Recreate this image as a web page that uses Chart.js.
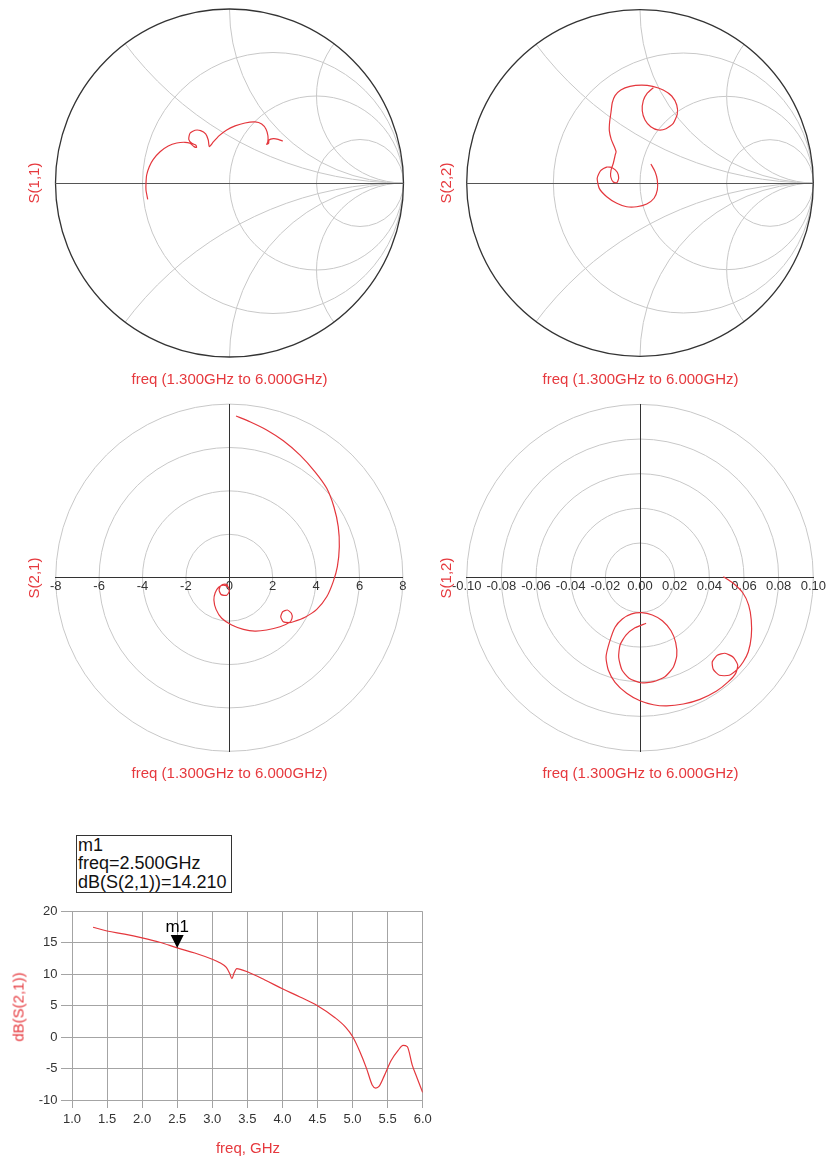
<!DOCTYPE html>
<html>
<head>
<meta charset="utf-8">
<title>S-parameters 1.3 - 6 GHz</title>
<script src="https://cdn.jsdelivr.net/npm/chart.js@4.4.1/dist/chart.umd.min.js"></script>
<style>
  html, body { margin: 0; padding: 0; background: #fff; }
  #page { position: relative; width: 828px; height: 1157px; overflow: hidden; font-family: "Liberation Sans", Arial, sans-serif; }
  #page canvas { position: absolute; }
  .red { position: absolute; color: #e6393e; font-size: 15px; white-space: nowrap; transform: translate(-50%, -50%); }
  .red.v { transform: translate(-50%, -50%) rotate(-90deg); }
  #mbox { position: absolute; left: 76px; top: 835px; width: 153px; height: 56px; border: 1px solid #333;
          padding: 0 0 0 1px; font-size: 18px; line-height: 18.3px; color: #111; white-space: nowrap; }
</style>
</head>
<body>
<div id="page">
  <canvas id="s11"></canvas>
  <canvas id="s22"></canvas>
  <canvas id="s21"></canvas>
  <canvas id="s12"></canvas>
  <canvas id="db"></canvas>

  <div class="red v" style="left:33px;top:183px">S(1,1)</div>
  <div class="red v" style="left:445px;top:183px">S(2,2)</div>
  <div class="red v" style="left:33px;top:578px">S(2,1)</div>
  <div class="red v" style="left:445px;top:578px">S(1,2)</div>
  <div class="red" style="left:229.5px;top:378px">freq (1.300GHz to 6.000GHz)</div>
  <div class="red" style="left:640.5px;top:378px">freq (1.300GHz to 6.000GHz)</div>
  <div class="red" style="left:229.5px;top:771.5px">freq (1.300GHz to 6.000GHz)</div>
  <div class="red" style="left:640.5px;top:771.5px">freq (1.300GHz to 6.000GHz)</div>
  <div class="red v" style="left:18px;top:1007px">dB(S(2,1))</div>
  <div class="red" style="left:248px;top:1147px">freq, GHz</div>

  <div id="mbox"><div id="mName"></div><div id="mFreq"></div><div id="mVal"></div></div>
</div>

<script>
// sweep 1.3 GHz .. 6 GHz, real / imaginary parts
const s11Re = [-0.470, -0.480, -0.480, -0.476, -0.461, -0.438, -0.399, -0.352, -0.303, -0.256,
  -0.227, -0.204, -0.189, -0.193, -0.217, -0.234, -0.227, -0.198, -0.166, -0.137,
  -0.122, -0.116, -0.093, -0.059, -0.016, 0.032, 0.089, 0.147, 0.185, 0.210,
  0.221, 0.220, 0.214, 0.225, 0.227, 0.252, 0.280, 0.306];
const s11Im = [-0.094, -0.040, -0.002, 0.046, 0.094, 0.136, 0.180, 0.213, 0.230, 0.234,
  0.228, 0.209, 0.205, 0.217, 0.228, 0.251, 0.286, 0.303, 0.301, 0.282,
  0.247, 0.209, 0.236, 0.272, 0.305, 0.328, 0.345, 0.351, 0.339, 0.309,
  0.270, 0.237, 0.222, 0.228, 0.247, 0.255, 0.251, 0.241];

const s22Re = [0.063, 0.087, 0.100, 0.100, 0.081, 0.039, -0.019, -0.077, -0.134, -0.192,
  -0.235, -0.247, -0.227, -0.192, -0.158, -0.131, -0.123, -0.134, -0.154, -0.169,
  -0.167, -0.154, -0.143, -0.138, -0.150, -0.166, -0.177, -0.175, -0.167, -0.160,
  -0.144, -0.111, -0.058, 0.010, 0.073, 0.134, 0.183, 0.212, 0.215, 0.192,
  0.150, 0.106, 0.062, 0.029, 0.013, 0.019, 0.042, 0.077];
const s22Im = [0.110, 0.065, 0.017, -0.040, -0.088, -0.121, -0.137, -0.137, -0.117, -0.079,
  -0.031, 0.027, 0.071, 0.092, 0.087, 0.062, 0.027, 0.002, 0.006, 0.036,
  0.075, 0.114, 0.162, 0.181, 0.214, 0.252, 0.302, 0.354, 0.411, 0.463,
  0.504, 0.537, 0.558, 0.565, 0.558, 0.537, 0.502, 0.450, 0.398, 0.344,
  0.313, 0.306, 0.325, 0.364, 0.417, 0.475, 0.518, 0.550];

const s21Re = [0.31, 0.95, 1.72, 2.49, 3.26, 3.95, 4.49, 4.82, 5.02, 5.07,
  4.98, 4.79, 4.49, 4.03, 3.49, 2.95, 2.76, 2.49, 2.37, 2.46,
  2.67, 2.86, 2.89, 2.76, 2.34, 1.72, 1.18, 0.65, 0.11, -0.35,
  -0.61, -0.71, -0.65, -0.49, -0.28, -0.06, 0.00, -0.12, -0.37, -0.47,
  -0.40, -0.20, -0.05];
const s21Im = [7.45, 7.19, 6.81, 6.31, 5.65, 4.88, 4.12, 3.27, 2.35, 1.43,
  0.51, -0.18, -0.88, -1.46, -1.82, -2.03, -2.07, -2.03, -1.80, -1.57,
  -1.49, -1.64, -1.87, -2.07, -2.26, -2.41, -2.46, -2.38, -2.18, -1.87,
  -1.46, -1.03, -0.69, -0.44, -0.34, -0.41, -0.63, -0.81, -0.78, -0.58,
  -0.38, -0.30, -0.35];

const s12Re = [0.0481, 0.0538, 0.0593, 0.0627, 0.0642, 0.0642, 0.0625, 0.0596, 0.0561, 0.0515,
  0.0458, 0.0423, 0.0417, 0.0446, 0.0490, 0.0538, 0.0564, 0.0552, 0.0510, 0.0442,
  0.0346, 0.0250, 0.0154, 0.0077, 0.0000, -0.0077, -0.0144, -0.0183, -0.0196, -0.0177,
  -0.0144, -0.0102, -0.0048, 0.0010, 0.0071, 0.0129, 0.0179, 0.0206, 0.0212, 0.0192,
  0.0144, 0.0077, 0.0004, -0.0063, -0.0104, -0.0123, -0.0115, -0.0081, -0.0029, 0.0035];
const s12Im = [0.0006, -0.0032, -0.0087, -0.0158, -0.0244, -0.0340, -0.0427, -0.0485, -0.0529, -0.0563,
  -0.0563, -0.0529, -0.0485, -0.0448, -0.0436, -0.0459, -0.0504, -0.0552, -0.0600, -0.0654,
  -0.0702, -0.0729, -0.0740, -0.0733, -0.0710, -0.0667, -0.0604, -0.0533, -0.0459, -0.0375,
  -0.0286, -0.0238, -0.0209, -0.0202, -0.0215, -0.0248, -0.0306, -0.0375, -0.0452, -0.0517,
  -0.0571, -0.0600, -0.0606, -0.0580, -0.0533, -0.0459, -0.0388, -0.0331, -0.0289, -0.0263];

// dB(S(2,1)) vs frequency
const freqGHz = [1.3, 1.5, 1.75, 2.0, 2.25, 2.5, 2.75, 3.0, 3.1, 3.2,
  3.25, 3.28, 3.31, 3.35, 3.4, 3.5, 3.75, 4.0, 4.25, 4.5,
  4.75, 4.9, 5.0, 5.1, 5.2, 5.28, 5.33, 5.38, 5.45, 5.55,
  5.65, 5.72, 5.78, 5.85, 5.92, 6.0];
const dbS21 = [17.5, 16.9, 16.4, 15.8, 15.1, 14.21, 13.4, 12.4, 11.9, 11.1,
  10.1, 9.3, 10.2, 10.9, 10.8, 10.4, 9.1, 7.7, 6.4, 5.0,
  3.1, 1.6, 0.1, -2.2, -5.0, -7.6, -8.1, -7.8, -6.2, -3.7,
  -2.1, -1.3, -1.5, -4.4, -6.5, -8.8];

// marker m1
const markerName = 'm1';
const markerFreq = 2.5;
const markerDb = 14.21;

// smith grid: constant resistance / reactance circles
const smithR = [1 / 3, 1, 3];
const smithX = [0.5, 1, 2];

// axis ticks
const s21Ticks = [-8, -6, -4, -2, 0, 2, 4, 6, 8];
const s12Ticks = [-0.10, -0.08, -0.06, -0.04, -0.02, 0.00, 0.02, 0.04, 0.06, 0.08, 0.10];
const freqTicks = [1.0, 1.5, 2.0, 2.5, 3.0, 3.5, 4.0, 4.5, 5.0, 5.5, 6.0];
const dbTicks = [-10, -5, 0, 5, 10, 15, 20];

const RED = '#e4373d';
const GRID = '#c8c8c8';
Chart.defaults.font.family = '"Liberation Sans", Arial, sans-serif';

// canvas box around a round plot so that the chart area is exactly the circle's square
function circleFrame(cx, cy, rad) {
  const left = Math.floor(cx - rad - 30);
  const top = Math.floor(cy - rad - 12);
  const w = Math.ceil(2 * rad + 60);
  const h = Math.ceil(2 * rad + 30);
  const pl = cx - rad - left, pt = cy - rad - top;
  return { left, top, w, h, padding: { left: pl, top: pt, right: w - pl - 2 * rad, bottom: h - pt - 2 * rad } };
}

function placeCanvas(id, f) {
  const c = document.getElementById(id);
  c.width = f.w;
  c.height = f.h;
  c.style.left = f.left + 'px';
  c.style.top = f.top + 'px';
  return c;
}

function curve(re, im) {
  return {
    data: re.map((v, i) => ({ x: v, y: im[i] })),
    showLine: true,
    borderColor: RED,
    borderWidth: 1.2,
    pointRadius: 0,
    tension: 0.2,
    fill: false
  };
}

function baseOptions(f) {
  return {
    responsive: false,
    animation: false,
    events: [],
    layout: { padding: f.padding },
    plugins: { legend: { display: false }, tooltip: { enabled: false } }
  };
}

// constant r / x circles clipped to the unit circle, plus the rim
const smithGrid = {
  id: 'smithGrid',
  beforeDraw(chart) {
    const { ctx, scales: { x, y } } = chart;
    const px = v => x.getPixelForValue(v);
    const py = v => y.getPixelForValue(v);
    const unit = px(1) - px(0);
    ctx.save();
    ctx.beginPath();
    ctx.arc(px(0), py(0), unit, 0, Math.PI * 2);
    ctx.clip();
    ctx.strokeStyle = GRID;
    ctx.lineWidth = 1;
    smithR.forEach(r => {
      ctx.beginPath();
      ctx.arc(px(r / (1 + r)), py(0), unit / (1 + r), 0, Math.PI * 2);
      ctx.stroke();
    });
    smithX.forEach(xv => {
      [xv, -xv].forEach(v => {
        ctx.beginPath();
        ctx.arc(px(1), py(1 / v), unit / Math.abs(v), 0, Math.PI * 2);
        ctx.stroke();
      });
    });
    ctx.restore();
    ctx.save();
    ctx.strokeStyle = '#333';
    ctx.lineWidth = 1.3;
    ctx.beginPath();
    ctx.arc(px(0), py(0), unit, 0, Math.PI * 2);
    ctx.stroke();
    ctx.restore();
  }
};

// magnitude rings for the polar plots
const polarRings = {
  id: 'polarRings',
  beforeDraw(chart, args, opts) {
    const { ctx, scales: { x, y } } = chart;
    const ox = x.getPixelForValue(0), oy = y.getPixelForValue(0);
    ctx.save();
    ctx.strokeStyle = GRID;
    ctx.lineWidth = 1;
    opts.values.forEach(v => {
      ctx.beginPath();
      ctx.arc(ox, oy, x.getPixelForValue(v) - ox, 0, Math.PI * 2);
      ctx.stroke();
    });
    ctx.restore();
  }
};

function smithChart(id, cx, cy, rad, re, im) {
  const f = circleFrame(cx, cy, rad);
  const opts = baseOptions(f);
  opts.scales = {
    x: { type: 'linear', min: -1, max: 1, position: { y: 0 },
         ticks: { display: false }, grid: { display: false, drawTicks: false },
         border: { color: '#555', width: 1 } },
    y: { type: 'linear', min: -1, max: 1, display: false }
  };
  return new Chart(placeCanvas(id, f), {
    type: 'scatter',
    data: { datasets: [curve(re, im)] },
    options: opts,
    plugins: [smithGrid]
  });
}

function polarChart(id, cx, cy, rad, re, im, ticks, fmt) {
  const f = circleFrame(cx, cy, rad);
  const lim = ticks[ticks.length - 1];
  const opts = baseOptions(f);
  opts.plugins.polarRings = { values: ticks.filter(v => v > 0) };
  opts.scales = {
    x: { type: 'linear', min: -lim, max: lim, position: { y: 0 },
         afterBuildTicks: s => { s.ticks = ticks.map(v => ({ value: v })); },
         ticks: { color: '#333', font: { size: 13 }, padding: 1, maxRotation: 0, autoSkip: false, callback: fmt },
         grid: { display: false, drawTicks: false },
         border: { color: '#333', width: 1 } },
    y: { type: 'linear', min: -lim, max: lim, position: { x: 0 },
         ticks: { display: false }, grid: { display: false, drawTicks: false },
         border: { color: '#333', width: 1 } }
  };
  return new Chart(placeCanvas(id, f), {
    type: 'scatter',
    data: { datasets: [curve(re, im)] },
    options: opts,
    plugins: [polarRings]
  });
}

smithChart('s11', 229.5, 183, 174, s11Re, s11Im);
smithChart('s22', 640, 183, 173.3, s22Re, s22Im);
polarChart('s21', 229.3, 577.7, 173.6, s21Re, s21Im, s21Ticks, v => String(v));
polarChart('s12', 640, 577.7, 173.3, s12Re, s12Im, s12Ticks, v => v.toFixed(2));

// marker triangle with its name above the trace
const markerPlugin = {
  id: 'marker',
  afterDatasetsDraw(chart, args, opts) {
    const { ctx, scales: { x, y } } = chart;
    const px = x.getPixelForValue(opts.freq);
    const py = y.getPixelForValue(opts.value);
    ctx.save();
    ctx.fillStyle = '#000';
    ctx.beginPath();
    ctx.moveTo(px - 6.5, py - 13);
    ctx.lineTo(px + 6.5, py - 13);
    ctx.lineTo(px, py);
    ctx.closePath();
    ctx.fill();
    ctx.font = '17px "Liberation Sans", Arial, sans-serif';
    ctx.textAlign = 'center';
    ctx.textBaseline = 'middle';
    ctx.fillText(opts.name, px, py - 21);
    ctx.restore();
  }
};

const dbFrame = { left: 0, top: 898, w: 440, h: 259,
                  padding: { left: 32, right: 17.3, top: 13.5, bottom: 27 } };
const dbOpts = baseOptions(dbFrame);
dbOpts.plugins.marker = { name: markerName, freq: markerFreq, value: markerDb };
dbOpts.scales = {
  x: { type: 'linear', min: freqTicks[0], max: freqTicks[freqTicks.length - 1],
       afterBuildTicks: s => { s.ticks = freqTicks.map(v => ({ value: v })); },
       afterFit: s => { s.height = 30; },
       ticks: { color: '#333', font: { size: 13 }, padding: 3.5, maxRotation: 0, autoSkip: false,
                callback: v => v.toFixed(1) },
       grid: { color: '#a4a4a4', tickLength: 8 },
       border: { color: '#a4a4a4' } },
  y: { type: 'linear', min: dbTicks[0], max: dbTicks[dbTicks.length - 1],
       afterBuildTicks: s => { s.ticks = dbTicks.map(v => ({ value: v })); },
       afterFit: s => { s.width = 40; },
       ticks: { color: '#333', font: { size: 13 }, padding: 3.5, autoSkip: false },
       grid: { color: '#a4a4a4', tickLength: 11 },
       border: { color: '#a4a4a4' } }
};
new Chart(placeCanvas('db', dbFrame), {
  type: 'line',
  data: { datasets: [{
    data: freqGHz.map((f, i) => ({ x: f, y: dbS21[i] })),
    borderColor: RED,
    borderWidth: 1.2,
    pointRadius: 0,
    cubicInterpolationMode: 'monotone',
    fill: false
  }] },
  options: dbOpts,
  plugins: [markerPlugin]
});

document.getElementById('mName').textContent = markerName;
document.getElementById('mFreq').textContent = 'freq=' + markerFreq.toFixed(3) + 'GHz';
document.getElementById('mVal').textContent = 'dB(S(2,1))=' + markerDb.toFixed(3);
</script>
</body>
</html>
